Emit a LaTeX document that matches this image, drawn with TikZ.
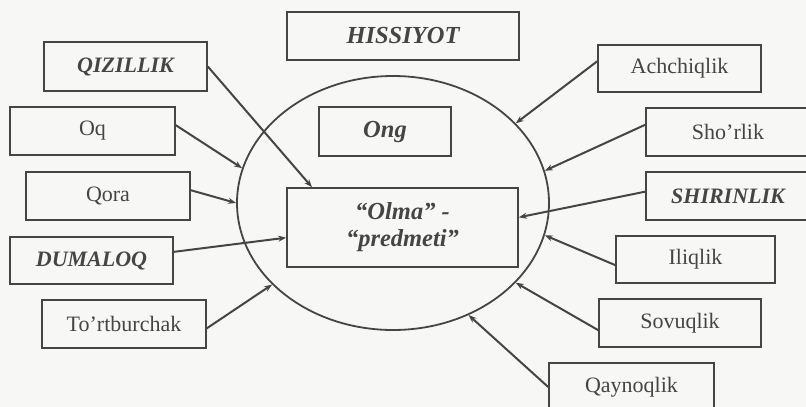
\documentclass[tikz,border=0pt]{standalone}
\usepackage{fontspec}
\setmainfont{Liberation Serif}
\usepackage{xcolor}
\usetikzlibrary{shapes.geometric, arrows.meta, positioning}

\definecolor{ink}{HTML}{454545}
\definecolor{paper}{HTML}{F7F7F5}

\begin{document}
\begin{tikzpicture}[
        x=1pt, y=-1pt,
        box/.style={rectangle, draw=ink, line width=1.6pt, minimum width=164pt, minimum height=48pt, inner sep=0pt, align=center, text=ink, font=\fontsize{22}{26}\selectfont},
        keybox/.style={box, font=\fontsize{22}{26}\selectfont\bfseries\itshape},
        bigbox/.style={box, font=\fontsize{24.5}{27}\selectfont\bfseries\itshape},
        arrow/.style={-{Stealth[length=8pt, width=6pt]}, line width=2pt, draw=ink}
    ]
    \useasboundingbox[fill=paper] (0,0) rectangle (806,407);

    % Centre
    \node[ellipse, draw=ink, line width=1.8pt, minimum width=312pt, minimum height=254pt, inner sep=0pt] (mind) at (393, 203) {};
    \node[bigbox, minimum width=132pt, minimum height=49pt] (ong) at (385, 131.5) {Ong};
    \node[bigbox, minimum width=231pt, minimum height=79pt] (olma) at (402.5, 227.5) {“Olma” -\\“predmeti”};
    \node[bigbox, minimum width=232pt] (hissiyot) at (403, 36) {HISSIYOT};

    % Left side
    \node[keybox, minimum width=163pt, minimum height=49pt] (qizil) at (125.5, 66.5) {QIZILLIK};
    \node[box, minimum width=165pt] (oq) at (92.5, 131) {Oq};
    \node[box] (qora) at (108, 196) {Qora};
    \node[keybox, minimum width=163pt, minimum height=47pt] (dumaloq) at (91.5, 260.5) {DUMALOQ};
    \node[box] (tortb) at (124, 324) {To’rtburchak};

    % Right side
    \node[box, minimum width=163pt, minimum height=47pt] (achchiq) at (679.5, 68.5) {Achchiqlik};
    \node[box] (shor) at (728, 132) {Sho’rlik};
    \node[keybox] (shirin) at (728, 196) {SHIRINLIK};
    \node[box, minimum width=159pt, minimum height=47pt] (iliq) at (695.5, 259.5) {Iliqlik};
    \node[box, minimum width=162pt] (sovuq) at (680, 323) {Sovuqlik};
    \node[box, minimum width=165pt] (qaynoq) at (631.5, 387) {Qaynoqlik};

    % Left arrows
    \draw[arrow] (qizil.east) -- (olma.156);
    \draw[arrow] (oq.4) -- (mind.167);
    \draw[arrow] (qora.4) -- (mind.180);
    \draw[arrow] (dumaloq.6) -- (olma.185);
    \draw[arrow] (tortb.357) -- (mind.214);

    % Right arrows
    \draw[arrow] (achchiq.175) -- (mind.33);
    \draw[arrow] (shor.175) -- (mind.12);
    \draw[arrow] (shirin.177) -- (olma.5);
    \draw[arrow] (iliq.184) -- (mind.348);
    \draw[arrow] (sovuq.185) -- (mind.327);
    \draw[arrow] (qaynoq.west) -- (mind.304);

\end{tikzpicture}
\end{document}
